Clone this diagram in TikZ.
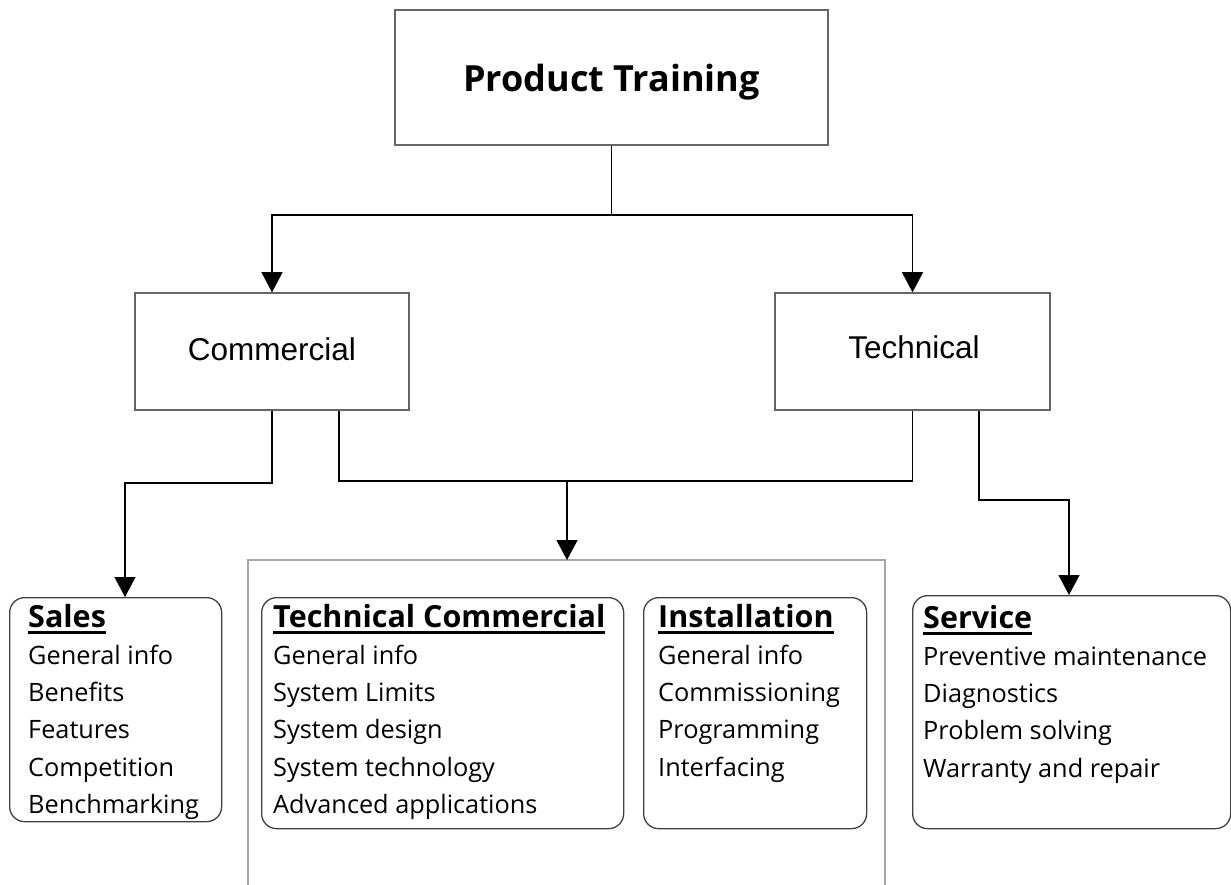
\documentclass[tikz,border=0pt]{standalone}
\usepackage{fontspec}
\setmainfont[Ligatures=NoCommon]{Open Sans}
\newfontfamily\arialf{Liberation Sans}
\usetikzlibrary{arrows.meta,calc}
\newcommand\ulttl[1]{\setbox0\hbox{\fontsize{30.5}{36}\selectfont\bfseries #1}\leavevmode\rlap{\rule[-7pt]{\wd0}{3.2pt}}\box0}
\newcommand\lst[1]{\begin{tabular}[t]{@{}l@{}}#1\end{tabular}}
\begin{document}
\begin{tikzpicture}[x=1pt,y=-1pt,
  sqbox/.style={draw=black!60,line width=1.5pt,rectangle,inner sep=0pt},
  rbox/.style={draw=black!75,line width=1.3pt,rounded corners=15pt,rectangle,inner sep=0pt,anchor=north west},
  lbl/.style={anchor=base,inner sep=0pt},
  lsttxt/.style={anchor=base west,inner sep=0pt,font=\fontsize{25.3}{37.3}\selectfont},
  arr/.style={draw=black,line width=1.2pt,-{Triangle[width=21pt,length=20pt]}},
  conn/.style={draw=black,line width=1.2pt}]
\useasboundingbox (0,0) rectangle (1231,885);
% top
\node[sqbox,minimum width=433pt,minimum height=135pt] (pt) at (611.5,77.5) {};
\node[lbl,font=\fontsize{36}{42}\selectfont\bfseries] (ptt) at (611.5,92) {Product Training};
% second level
\node[sqbox,minimum width=274pt,minimum height=117pt] (com) at (272,351.5) {};
\node[lbl,font=\arialf\fontsize{31.5}{38}\selectfont] (comt) at (272,360) {Commercial};
\node[sqbox,minimum width=275pt,minimum height=117pt] (tech) at (912.5,351.5) {};
\node[lbl,font=\arialf\fontsize{31.5}{38}\selectfont] (techt) at (914,358) {Technical};
% grey group frame
\draw[draw=black!35,line width=1.5pt] (248,885) -- (248,560) -- (885,560) -- (885,885);
\coordinate (grp) at (567,560);
% bottom boxes
\node[rbox,minimum width=212pt,minimum height=224pt] (sales) at (9,597) {};
\node[lsttxt] (salest) at (28,627) {\lst{\ulttl{Sales}\\General info\\Benefits\\Features\\Competition\\Benchmarking}};
\node[rbox,minimum width=362pt,minimum height=231pt] (tc) at (261,597) {};
\node[lsttxt] (tct) at (273,627) {\lst{\ulttl{Technical Commercial}\\General info\\System Limits\\System design\\System technology\\Advanced applications}};
\node[rbox,minimum width=223pt,minimum height=231pt] (inst) at (643,597) {};
\node[lsttxt] (instt) at (658,627) {\lst{\ulttl{Installation}\\General info\\Commissioning\\Programming\\Interfacing}};
\node[rbox,minimum width=318pt,minimum height=233pt] (serv) at (912,595) {};
\node[lsttxt] (servt) at (923,628) {\lst{\ulttl{Service}\\Preventive maintenance\\Diagnostics\\Problem solving\\Warranty and repair}};
% connectors
\coordinate (j1) at (611.5,215);
\draw[conn] (pt.south) -- (j1);
\draw[arr] (j1) -| (com.north);
\draw[arr] (j1) -| (tech.north);
\coordinate (c1) at (125,483);
\draw[arr] (com.south) |- (c1) -- (c1 |- sales.north);
\coordinate (c2) at (339,481);
\draw[conn] ($(com.south)+(67,0)$) -- (c2) -| (tech.south);
\draw[arr] (c2 -| grp) -- (grp);
\coordinate (c3) at (1069,500);
\draw[arr] ($(tech.south)+(66.5,0)$) |- (c3) -- (c3 |- serv.north);
\end{tikzpicture}
\end{document}
